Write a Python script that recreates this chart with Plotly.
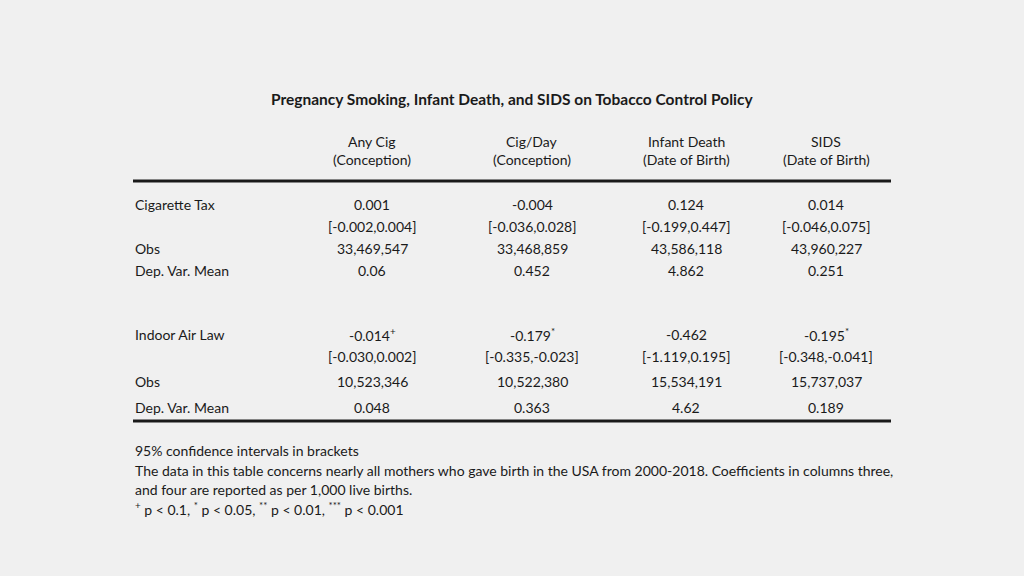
import plotly.graph_objects as go

# ---- data ----
title = "Pregnancy Smoking, Infant Death, and SIDS on Tobacco Control Policy"
col_names = ["Any Cig", "Cig/Day", "Infant Death", "SIDS"]
col_sub = ["(Conception)", "(Conception)", "(Date of Birth)", "(Date of Birth)"]

row_labels = ["Cigarette Tax", "Indoor Air Law"]
coefs = [["0.001", "-0.004", "0.124", "0.014"],
         ["-0.014", "-0.179", "-0.462", "-0.195"]]
stars = [["", "", "", ""],
         ["+", "*", "", "*"]]
cis = [["[-0.002,0.004]", "[-0.036,0.028]", "[-0.199,0.447]", "[-0.046,0.075]"],
       ["[-0.030,0.002]", "[-0.335,-0.023]", "[-1.119,0.195]", "[-0.348,-0.041]"]]
obs = [["33,469,547", "33,468,859", "43,586,118", "43,960,227"],
       ["10,523,346", "10,522,380", "15,534,191", "15,737,037"]]
means = [["0.06", "0.452", "4.862", "0.251"],
         ["0.048", "0.363", "4.62", "0.189"]]

notes = [
    "95% confidence intervals in brackets",
    "The data in this table concerns nearly all mothers who gave birth in the USA from 2000-2018. Coefficients in columns three,",
    "and four are reported as per 1,000 live births.",
    "<sup>+</sup> p < 0.1, <sup>*</sup> p < 0.05, <sup>**</sup> p < 0.01, <sup>***</sup> p < 0.001",
]

# ---- layout ----
FONT = "Lato, 'Open Sans', sans-serif"
COLOR = "#1a1a1a"
BG = "#f0f0f0"
BODY = 14
col_x = [372, 532, 686, 826]
left_x = 133
right_x = 891
panel_rows = [[204, 226, 248, 270], [334, 356, 381, 407]]

fig = go.Figure()
ann = []

def add(x, y, text, size=BODY, anchor="center", bold=False):
    ann.append(dict(x=x, y=y, xref="x", yref="y", text=("<b>%s</b>" % text) if bold else text,
                    showarrow=False, xanchor=anchor, yanchor="middle",
                    font=dict(family=FONT, size=size, color=COLOR)))

add(512, 99, title, size=15.5, bold=True)
for i, x in enumerate(col_x):
    add(x, 141, col_names[i])
    add(x, 159, col_sub[i])

for p in range(2):
    ys = panel_rows[p]
    add(left_x, ys[0], row_labels[p], anchor="left")
    add(left_x, ys[2], "Obs", anchor="left")
    add(left_x, ys[3], "Dep. Var. Mean", anchor="left")
    for i, x in enumerate(col_x):
        s = stars[p][i]
        add(x, ys[0], coefs[p][i] + ("<sup>%s</sup>" % s if s else ""))
        add(x, ys[1], cis[p][i])
        add(x, ys[2], obs[p][i])
        add(x, ys[3], means[p][i])

for j, y in enumerate([450, 470, 489, 508]):
    add(left_x, y, notes[j], anchor="left")

shapes = [
    dict(type="line", xref="x", yref="y", x0=left_x, x1=right_x, y0=181, y1=181,
         line=dict(color=COLOR, width=3)),
    dict(type="line", xref="x", yref="y", x0=left_x, x1=right_x, y0=421, y1=421,
         line=dict(color=COLOR, width=3)),
]

fig.update_layout(
    width=1024, height=576,
    margin=dict(l=0, r=0, t=0, b=0),
    paper_bgcolor=BG, plot_bgcolor=BG,
    font=dict(family=FONT, size=BODY, color=COLOR),
    xaxis=dict(range=[0, 1024], visible=False, fixedrange=True),
    yaxis=dict(range=[576, 0], visible=False, fixedrange=True),
    annotations=ann, shapes=shapes, showlegend=False,
)
fig.write_html("out.html", config={"displayModeBar": False},
               post_script="document.body.style.margin='0';document.body.style.background='%s';" % BG)
